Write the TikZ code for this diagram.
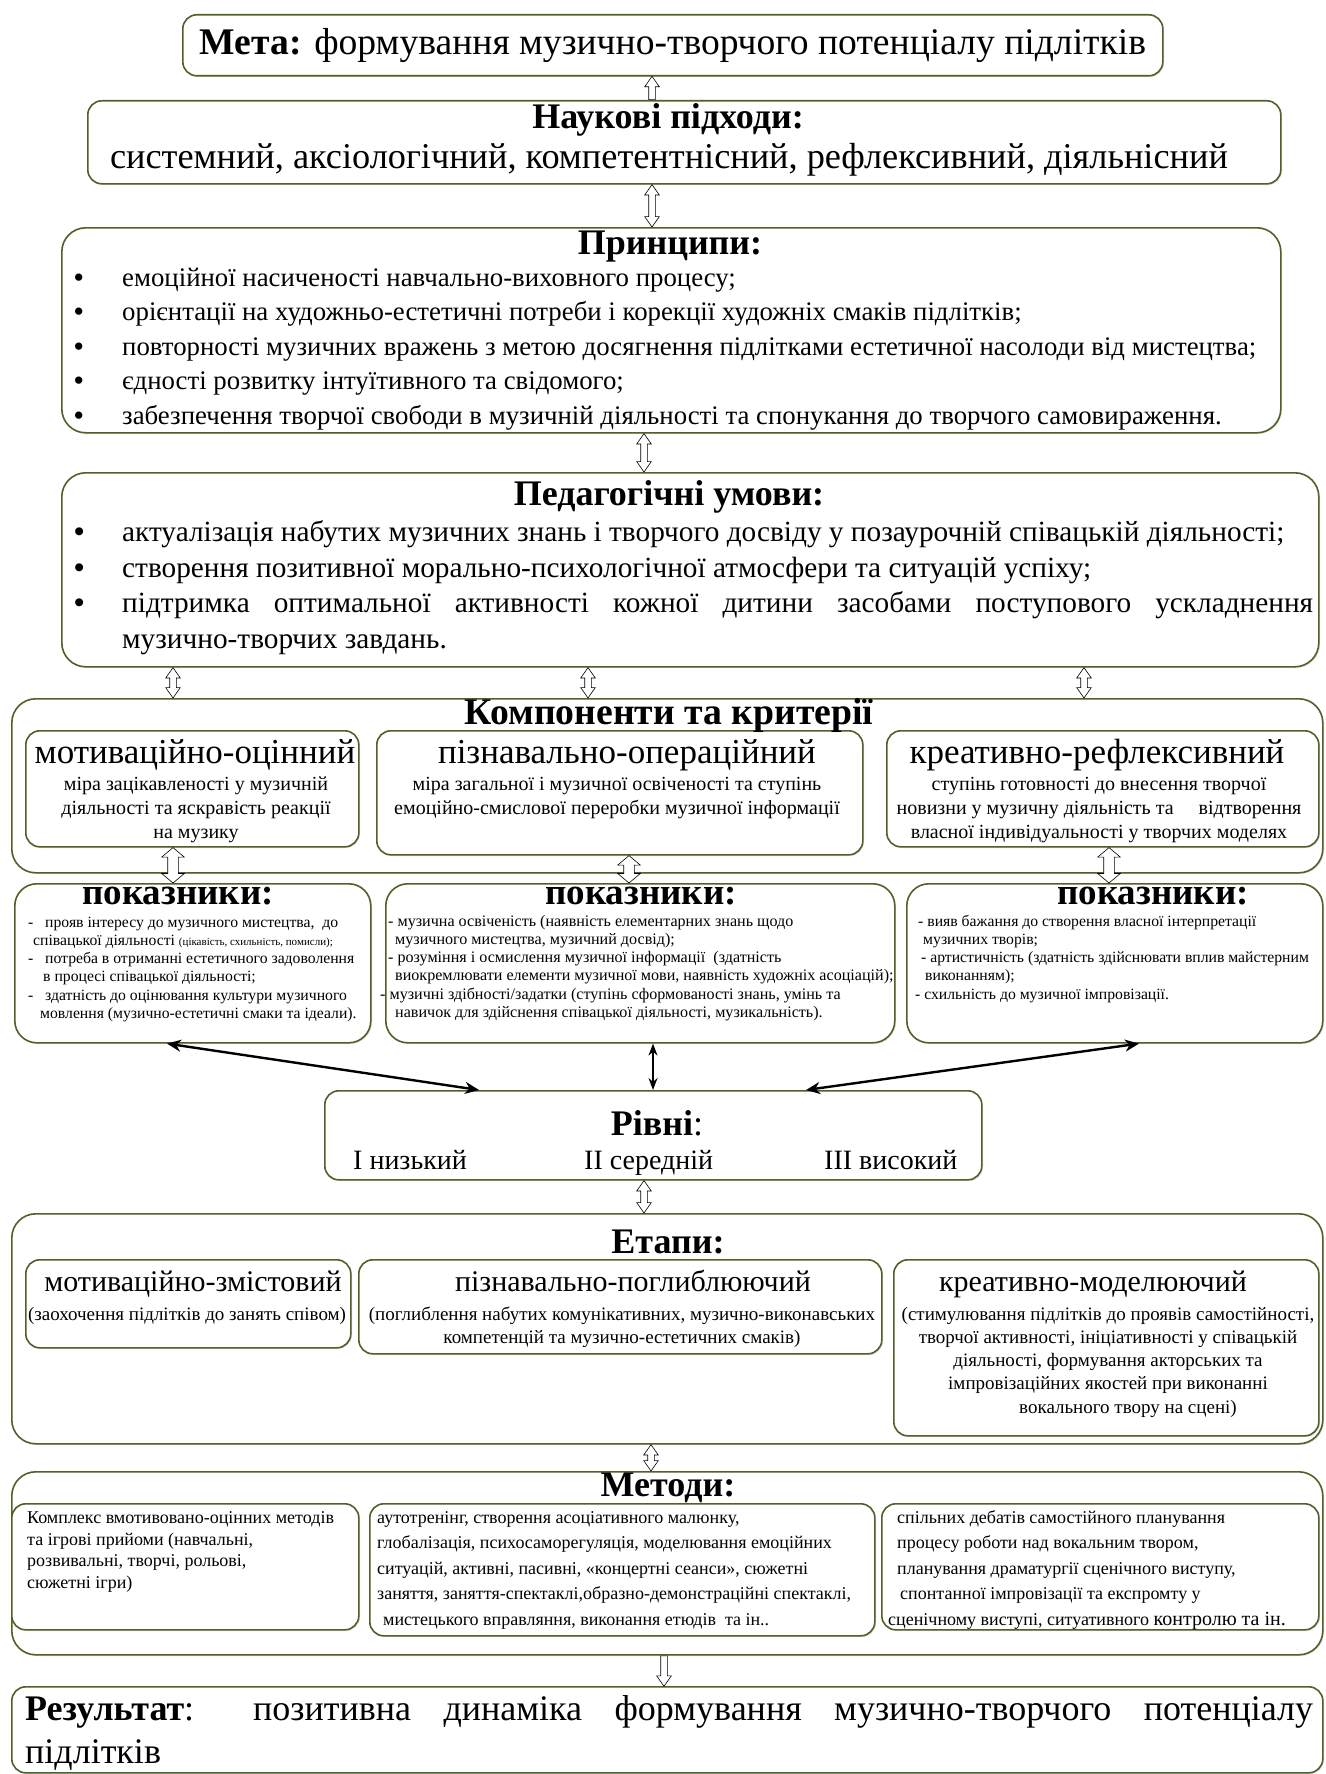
\documentclass[tikz,border=0pt]{standalone}
\usepackage{fontspec}
\setmainfont{Liberation Serif}
\usetikzlibrary{shapes.arrows,arrows.meta,calc,shadows}
\definecolor{boxgreen}{HTML}{4F6228}
\newcommand\myfs[2]{\fontsize{#1}{#2}\selectfont}
\newcommand\Lbox[1]{\vtop{\halign{##\hfil\cr#1\crcr}}}
\newcommand\Cbox[1]{\vtop{\halign{\hfil##\hfil\cr#1\crcr}}}
\newcommand\bul{\makebox[48pt][l]{\textbf{•}}}
\newcommand\dsh{\makebox[17pt][l]{-}}
\newcommand\hdouble[4]{%
  \path let \p1=(#3), \p2=(#4), \n1={abs(\y2-\y1)} in
    node[#2, double arrow, rotate=90, minimum height=\n1] (#1) at ($(#3)!0.5!(#4)$) {};}
\newcommand\hsingle[4]{%
  \path let \p1=(#3), \p2=(#4), \n1={abs(\y2-\y1)} in
    node[hol, single arrow, rotate=#2, minimum height=\n1, anchor=tail] (#1) at (#3) {};}
\tikzset{
  box/.style={draw=boxgreen, line width=1.6pt, rounded corners=#1, anchor=north west,
    inner sep=0pt, fill=white, drop shadow={opacity=0.25, shadow xshift=1.2pt, shadow yshift=-1.2pt}},
  box/.default=14pt,
  hol/.style={draw=black, fill=white, line width=0.6pt, inner xsep=0pt, inner ysep=3pt,
    single arrow head extend=4pt, double arrow head extend=4pt,
    single arrow tip angle=70, double arrow tip angle=70},
  holbig/.style={hol, inner ysep=5pt, double arrow head extend=6pt, double arrow tip angle=100},
  blk/.style={line width=2.4pt, {Stealth[length=14pt,width=12pt]}-{Stealth[length=14pt,width=12pt]}},
  blkthin/.style={line width=1.2pt, {Stealth[length=12pt,width=9pt]}-{Stealth[length=12pt,width=9pt]}},
  ttl/.style={font=\myfs{36}{40}\bfseries, anchor=mid, inner sep=0pt},
  txt/.style={inner sep=0pt},
}
\begin{document}
\begin{tikzpicture}[x=1pt,y=-1pt]
\fill[white] (0,0) rectangle (1325,1774);
\useasboundingbox (0,0) rectangle (1325,1774);

% ---------- boxes ----------
\node[box, minimum width=980pt, minimum height=61pt] (meta) at (182,14) {};
\node[box, minimum width=1193pt, minimum height=83pt] (nauk) at (87,100) {};
\node[box=24pt, minimum width=1219pt, minimum height=205pt] (princ) at (61,227) {};
\node[box=24pt, minimum width=1257pt, minimum height=194pt] (ped) at (61,472) {};
\node[box=24pt, minimum width=1311pt, minimum height=174pt] (komp) at (11,698) {};
\node[box, minimum width=333pt, minimum height=116pt] (k1) at (25,730) {};
\node[box, minimum width=486pt, minimum height=124pt] (k2) at (376,730) {};
\node[box, minimum width=432pt, minimum height=116pt] (k3) at (886,730) {};
\node[box=22pt, minimum width=356pt, minimum height=159pt] (pk1) at (14,883) {};
\node[box=22pt, minimum width=509pt, minimum height=159pt] (pk2) at (385,883) {};
\node[box=22pt, minimum width=416pt, minimum height=159pt] (pk3) at (906,883) {};
\node[box, minimum width=657pt, minimum height=89pt] (rivni) at (324,1090) {};
\node[box=24pt, minimum width=1311pt, minimum height=230pt] (etapy) at (11,1213) {};
\node[box, minimum width=325pt, minimum height=88pt] (e1) at (25,1259) {};
\node[box, minimum width=523pt, minimum height=94pt] (e2) at (358,1259) {};
\node[box, minimum width=425pt, minimum height=176pt] (e3) at (893,1259) {};
\node[box=24pt, minimum width=1311pt, minimum height=183pt] (metody) at (11,1471) {};
\node[box, minimum width=347pt, minimum height=126pt] (m1) at (11,1503) {};
\node[box, minimum width=505pt, minimum height=132pt] (m2) at (369,1503) {};
\node[box, minimum width=437pt, minimum height=126pt] (m3) at (881,1503) {};
\node[box, minimum width=1311pt, minimum height=86pt] (rez) at (11,1686) {};

% ---------- texts ----------
\node[txt, font=\myfs{37.6}{40}, anchor=mid] (metaT) at (673,52)
  {\textbf{Мета:} формування музично-творчого потенціалу підлітків};

\node[ttl] (naukT) at (668,126) {Наукові підходи:};
\node[txt, font=\myfs{36.3}{40}, anchor=mid] (naukL) at (669,166)
  {системний, аксіологічний, компетентнісний, рефлексивний, діяльнісний};

\node[ttl] (princT) at (670,252) {Принципи:};
\node[txt, font=\myfs{26.8}{34.5}, anchor=mid west] (princL) at (74,284) {\Lbox{%
\bul емоційної насиченості навчально-виховного процесу;\cr
\bul орієнтації на художньо-естетичні потреби і корекції художніх смаків підлітків;\cr
\bul повторності музичних вражень з метою досягнення підлітками естетичної насолоди від мистецтва;\cr
\bul єдності розвитку інтуїтивного та свідомого;\cr
\bul забезпечення творчої свободи в музичній діяльності та спонукання до творчого самовираження.}};

\node[ttl] (pedT) at (669,503) {Педагогічні умови:};
\node[txt, font=\myfs{29.3}{35.7}, anchor=mid west] (pedL) at (74,539) {\Lbox{%
\bul актуалізація набутих музичних знань і творчого досвіду у позаурочній співацькій діяльності;\cr
\bul створення позитивної морально-психологічної атмосфери та ситуацій успіху;\cr
\bul \makebox[1191pt][s]{підтримка оптимальної активності кожної дитини засобами поступового ускладнення}\cr
\hspace{48pt}музично-творчих завдань.}};

\node[ttl, font=\myfs{37.7}{40}\bfseries] (kompT) at (669,722) {Компоненти та критерії};
\node[txt, font=\myfs{35}{40}, anchor=mid] (k1T) at (195,761) {мотиваційно-оцінний};
\node[txt, font=\myfs{20}{24}, anchor=mid] (k1D) at (196,788) {\Cbox{%
міра зацікавленості у музичній\cr діяльності та яскравість реакції\cr на музику}};
\node[txt, font=\myfs{35}{40}, anchor=mid] (k2T) at (627,761) {пізнавально-операційний};
\node[txt, font=\myfs{20}{24}, anchor=mid] (k2D) at (617,788) {\Cbox{%
міра загальної і музичної освіченості та ступінь\cr емоційно-смислової переробки музичної інформації}};
\node[txt, font=\myfs{35}{40}, anchor=mid] (k3T) at (1097,761) {креативно-рефлексивний};
\node[txt, font=\myfs{20}{24}, anchor=mid] (k3D) at (1099,788) {\Cbox{%
ступінь готовності до внесення творчої\cr новизни у музичну діяльність та\quad\ відтворення\cr
власної індивідуальності у творчих моделях}};

\node[ttl, font=\myfs{37}{40}\bfseries] (pk1T) at (178,902) {показники:};
\node[ttl, font=\myfs{37}{40}\bfseries] (pk2T) at (641,902) {показники:};
\node[ttl, font=\myfs{37}{40}\bfseries] (pk3T) at (1153,902) {показники:};
\node[txt, font=\myfs{15.7}{18.2}, anchor=mid west] (pk1L) at (28,925) {\Lbox{%
\dsh прояв інтересу до музичного мистецтва,\ \ до\cr
\hspace{5pt}співацької діяльності {\myfs{11}{13}(цікавість, схильність, помисли);}\cr
\dsh потреба в отриманні естетичного задоволення\cr
\hspace{15pt}в процесі співацької діяльності;\cr
\dsh здатність до оцінювання культури музичного\cr
\hspace{12pt}мовлення (музично-естетичні смаки та ідеали).}};
\node[txt, font=\myfs{16.1}{18.2}, anchor=mid west] (pk2L) at (388,924) {\Lbox{%
- музична освіченість (наявність елементарних знань щодо\cr
\hspace{7pt}музичного мистецтва, музичний досвід);\cr
- розуміння і осмислення музичної інформації\ \ (здатність\cr
\hspace{7pt}виокремлювати елементи музичної мови, наявність художніх асоціацій);\cr
\hspace{-8pt}- музичні здібності/задатки (ступінь сформованості знань, умінь та\cr
\hspace{7pt}навичок для здійснення співацької діяльності, музикальність).}};
\node[txt, font=\myfs{15.7}{18.2}, anchor=mid west] (pk3L) at (918,924) {\Lbox{%
- вияв бажання до створення власної інтерпретації\cr
\hspace{5pt}музичних творів;\cr
\hspace{3pt}- артистичність (здатність здійснювати вплив майстерним\cr
\hspace{7pt}виконанням);\cr
\hspace{-3pt}- схильність до музичної імпровізації.}};

\node[txt, font=\myfs{36}{40}, anchor=mid] (rivniT) at (657,1133) {\textbf{Рівні}:};
\node[txt, font=\myfs{28}{32}, anchor=mid west] (riv1) at (353,1167) {І низький};
\node[txt, font=\myfs{28}{32}, anchor=mid west] (riv2) at (584,1167) {ІІ середній};
\node[txt, font=\myfs{28}{32}, anchor=mid west] (riv3) at (824,1167) {ІІІ високий};

\node[ttl] (etT) at (668,1251) {Етапи:};
\node[txt, font=\myfs{30}{34}, anchor=mid] (e1T) at (193,1289) {мотиваційно-змістовий};
\node[txt, font=\myfs{19}{23}, anchor=mid] (e1D) at (187,1318) {(заохочення підлітків до занять співом)};
\node[txt, font=\myfs{30}{34}, anchor=mid] (e2T) at (633,1289) {пізнавально-поглиблюючий};
\node[txt, font=\myfs{19}{23}, anchor=mid] (e2D) at (622,1318) {\Cbox{%
(поглиблення набутих комунікативних, музично-виконавських\cr компетенцій та музично-естетичних смаків)}};
\node[txt, font=\myfs{30}{34}, anchor=mid] (e3T) at (1093,1289) {креативно-моделюючий};
\node[txt, font=\myfs{19}{23.2}, anchor=mid] (e3D) at (1108,1318) {\Cbox{%
(стимулювання підлітків до проявів самостійності,\cr
творчої активності, ініціативності у співацькій\cr
діяльності, формування акторських та\cr
імпровізаційних якостей при виконанні\cr
\hspace{40pt}вокального твору на сцені)}};

\node[ttl] (metT) at (668,1494) {Методи:};
\node[txt, font=\myfs{18}{21.7}, anchor=mid west] (m1L) at (27,1521) {\Lbox{%
Комплекс вмотивовано-оцінних методів\cr та ігрові прийоми (навчальні,\cr
розвивальні, творчі, рольові,\cr сюжетні ігри)}};
\node[txt, font=\myfs{18}{25.5}, anchor=mid west] (m2L) at (377,1521) {\Lbox{%
аутотренінг, створення асоціативного малюнку,\cr
глобалізація, психосаморегуляція, моделювання емоційних\cr
ситуацій, активні, пасивні, «концертні сеанси», сюжетні\cr
заняття, заняття-спектаклі,образно-демонстраційні спектаклі,\cr
\hspace{6pt}мистецького вправляння, виконання етюдів\ \ та ін..}};
\node[txt, font=\myfs{18}{25.5}, anchor=mid west] (m3L) at (897,1521) {\Lbox{%
спільних дебатів самостійного планування\cr
процесу роботи над вокальним твором,\cr
планування драматургії сценічного виступу,\cr
\hspace{3pt}спонтанної імпровізації та експромту у\cr
\hspace{-9pt}сценічному виступі, ситуативного {\myfs{20}{25}контролю та ін.}}};

\node[txt, font=\myfs{36}{43}, anchor=mid west] (rezL) at (25,1718) {\Lbox{%
\makebox[1288pt][s]{\textbf{Результат}: позитивна динаміка формування музично-творчого потенціалу}\cr
підлітків}};

% ---------- connectors ----------
\coordinate (xa) at (652,0);
\coordinate (xc) at (644,0);
\coordinate (xd1) at (173,0);
\coordinate (xd2) at (588,0);
\coordinate (xd3) at (1084,0);
\coordinate (xe1) at (173,0);
\coordinate (xe2) at (629,0);
\coordinate (xe3) at (1109,0);
\coordinate (xf1) at (167,0);
\coordinate (xg1) at (479,0);
\coordinate (xf2) at (653,0);
\coordinate (xf3) at (1139,0);
\coordinate (xg3) at (806,0);
\coordinate (xh) at (644,0);
\coordinate (xi) at (651,0);
\coordinate (xj) at (664,0);

\hsingle{a1}{90}{nauk.north -| xa}{meta.south -| xa}
\hdouble{a2}{hol}{nauk.south -| xa}{princ.north -| xa}
\hdouble{a3}{hol}{princ.south -| xc}{ped.north -| xc}
\hdouble{a4}{hol}{ped.south -| xd1}{komp.north -| xd1}
\hdouble{a5}{hol}{ped.south -| xd2}{komp.north -| xd2}
\hdouble{a6}{hol}{ped.south -| xd3}{komp.north -| xd3}
\hdouble{a7}{holbig}{k1.south -| xe1}{pk1.north -| xe1}
\hdouble{a8}{holbig}{k2.south -| xe2}{pk2.north -| xe2}
\hdouble{a9}{holbig}{k3.south -| xe3}{pk3.north -| xe3}
\draw[blk] (pk1.south -| xf1) -- (rivni.north -| xg1);
\draw[blkthin] (pk2.south -| xf2) -- (rivni.north -| xf2);
\draw[blk] (pk3.south -| xf3) -- (rivni.north -| xg3);
\hdouble{a10}{hol}{rivni.south -| xh}{etapy.north -| xh}
\hdouble{a11}{hol}{etapy.south -| xi}{metody.north -| xi}
\hsingle{a12}{-90}{metody.south -| xj}{rez.north -| xj}
\end{tikzpicture}
\end{document}
